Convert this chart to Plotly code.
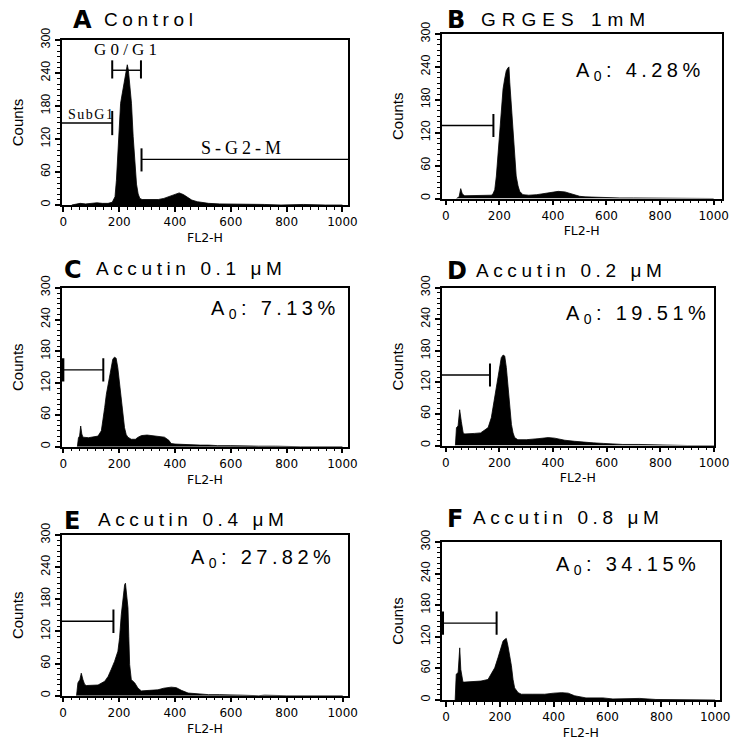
import json
import plotly.graph_objects as go

W, H = 735, 740

# ---------------- data ----------------
panel_letters = ["A", "B", "C", "D", "E", "F"]
panel_titles = ["Control", "GRGES 1mM", "Accutin 0.1 \u03bcM", "Accutin 0.2 \u03bcM",
                "Accutin 0.4 \u03bcM", "Accutin 0.8 \u03bcM"]
apoptosis_pct = [None, "4.28%", "7.13%", "19.51%", "27.82%", "34.15%"]
x_tick_vals = [0, 200, 400, 600, 800, 1000]
y_tick_vals = [0, 60, 120, 180, 240, 300]

fl2_A = [30, 45, 60, 80, 100, 120, 140, 160, 175, 185, 190, 195, 200, 205, 210, 215, 220, 225,
         229, 233, 238, 244, 250, 256, 262, 268, 274, 282, 300, 320, 340, 360, 380, 400, 415,
         430, 445, 460, 480, 500, 520, 560, 600, 640, 680, 720, 780, 860, 940, 1000]
cnt_A = [0, 2, 3, 2, 3, 4, 3, 3, 5, 15, 45, 100, 140, 185, 200, 215, 235, 250,
         255, 245, 215, 185, 125, 70, 38, 20, 12, 10, 10, 11, 10, 12, 16, 20, 22,
         19, 14, 9, 6, 4, 3, 2, 2, 1, 1, 1, 0, 1, 0, 0]

fl2_B = [40, 50, 56, 62, 71, 90, 110, 130, 150, 170, 176, 183, 189, 195, 201, 207, 214, 220,
         226, 232, 236, 239, 245, 251, 257, 263, 270, 276, 288, 310, 340, 370, 395, 420, 445,
         470, 500, 520, 560, 600, 650, 700, 760, 820, 880, 940, 1000]
cnt_B = [0, 3, 18, 8, 5, 5, 6, 5, 6, 6, 8, 16, 41, 78, 126, 163, 200, 218,
         233, 238, 240, 212, 169, 120, 71, 41, 23, 13, 7, 6, 7, 9, 12, 13, 12,
         8, 4, 3, 2, 2, 1, 1, 1, 0, 1, 0, 0]

fl2_C = [50, 54, 58, 62, 66, 70, 90, 110, 124, 136, 142, 148, 154, 160, 166, 172, 177, 183,
         189, 195, 201, 207, 213, 219, 225, 231, 243, 258, 268, 280, 300, 320, 340, 362, 378,
         386, 400, 430, 458, 490, 520, 553, 600, 650, 700, 760, 850, 1000]
cnt_C = [0, 17, 20, 39, 24, 18, 17, 18, 20, 30, 48, 74, 99, 118, 136, 149, 165, 169,
         167, 149, 118, 86, 55, 36, 23, 18, 14, 14, 18, 21, 22, 21, 20, 18, 12,
         6, 5, 4, 4, 3, 3, 2, 2, 1, 1, 1, 0, 0]

fl2_D = [36, 40, 46, 52, 58, 65, 71, 90, 108, 130, 158, 170, 182, 189, 195, 201, 207, 214,
         220, 226, 232, 239, 245, 251, 257, 269, 300, 344, 382, 406, 444, 480, 518, 550, 587,
         620, 660, 720, 800, 900, 1000]
cnt_D = [0, 34, 37, 68, 46, 24, 22, 22, 23, 24, 34, 53, 91, 116, 129, 154, 167, 172,
         170, 148, 116, 72, 40, 24, 15, 11, 11, 13, 15, 14, 10, 8, 6, 5, 4,
         3, 2, 2, 1, 0, 0]

fl2_E = [48, 53, 60, 65, 71, 77, 83, 100, 125, 149, 161, 172, 184, 196, 202, 208, 214, 220,
         223, 226, 232, 235, 238, 244, 256, 268, 280, 310, 339, 360, 387, 405, 423, 447, 483,
         520, 560, 600, 640, 700, 720, 800, 1000]
cnt_E = [0, 24, 30, 42, 30, 21, 19, 19, 20, 27, 36, 49, 64, 83, 108, 151, 182, 207,
         210, 198, 164, 110, 58, 30, 24, 14, 9, 10, 11, 14, 16, 15, 10, 5, 3,
         2, 2, 1, 1, 0, 1, 0, 0]

fl2_F = [34, 38, 45, 51, 55, 63, 70, 100, 130, 156, 168, 181, 193, 206, 212, 218, 224, 230,
         237, 243, 249, 255, 268, 280, 320, 367, 400, 430, 454, 478, 520, 583, 620, 700, 720,
         780, 900, 1000]
cnt_F = [0, 49, 52, 99, 58, 34, 34, 35, 36, 39, 49, 61, 80, 103, 112, 115, 117, 103,
         84, 65, 39, 23, 14, 11, 11, 11, 13, 14, 13, 8, 4, 4, 2, 2, 3,
         1, 0, 0]

panel_fl2 = [fl2_A, fl2_B, fl2_C, fl2_D, fl2_E, fl2_F]
panel_cnt = [cnt_A, cnt_B, cnt_C, cnt_D, cnt_E, cnt_F]

# sub-G1 (apoptotic) gate: right end (FL2-H) and height (counts)
gate_end = [175, 178, 143, 165, 180, 188]
gate_level = [149, 133, 145, 134, 139, 146]
# Control-panel gates
g0g1_gate = (175, 278, 245)
sg2m_gate = (280, 83)

# ---------------- layout geometry (pixels) ----------------
boxes = [(62, 348, 40, 205), (441.7, 721.7, 34, 198.5),
         (62, 348, 287.7, 446.7), (441.7, 714, 287.7, 445.5),
         (61.7, 348.3, 535, 695.7), (441.7, 720, 542, 700)]
xranges = [[-5, 1020], [-15, 1030], [-5, 1020], [-15, 1000], [-5, 1020], [-16, 1018]]
letter_pos = [(71.7, 20), (446, 20.3), (63.3, 270), (446, 270.5), (63.3, 520.5), (446, 519)]
title_pos = [(103.3, 19.7), (480, 20), (95, 269), (475, 270), (96.7, 519.5), (471.7, 517.7)]
ao_pos = [None, (575, 71.5), (210, 310), (565, 314), (190, 558.5), (555, 565)]


def px(x):
    return x / W


def py(y):
    return 1 - y / H


fig = go.Figure()
shapes = []
annotations = []
spacing = []

BLACK = "black"
for i in range(6):
    n = "" if i == 0 else str(i + 1)
    L, R, T, B = boxes[i]
    fig.add_trace(go.Scatter(
        x=panel_fl2[i], y=panel_cnt[i], xaxis="x" + n, yaxis="y" + n,
        mode="lines", line=dict(color=BLACK, width=0.8, shape="linear"),
        fill="tozeroy", fillcolor=BLACK, hoverinfo="skip", showlegend=False))
    fig.layout["xaxis" + n] = dict(
        domain=[px(L), px(R)], range=xranges[i], anchor="y" + n, automargin=False,
        showline=True, linecolor=BLACK, linewidth=1.5, mirror=True,
        showgrid=False, zeroline=False,
        tickmode="array", tickvals=x_tick_vals, ticks="outside", ticklen=5,
        tickwidth=1.5, tickcolor=BLACK,
        minor=dict(dtick=200 / 7, tick0=0, ticks="outside", ticklen=3, tickwidth=1,
                   tickcolor=BLACK),
        tickfont=dict(family="DejaVu Sans", size=12, color=BLACK),
        title=dict(text="FL2-H", standoff=5,
                   font=dict(family="DejaVu Sans", size=12.5, color=BLACK)),
        fixedrange=True)
    fig.layout["yaxis" + n] = dict(
        domain=[py(B), py(T)], range=[0, 300], anchor="x" + n, automargin=False,
        showline=True, linecolor=BLACK, linewidth=1.5, mirror=True,
        showgrid=False, zeroline=False,
        tickmode="array", tickvals=y_tick_vals, tickangle=-90,
        ticks="outside", ticklen=5, tickwidth=1.5, tickcolor=BLACK,
        minor=dict(dtick=10, ticks="outside", ticklen=3, tickwidth=1, tickcolor=BLACK),
        tickfont=dict(family="Liberation Sans Narrow, Liberation Sans", size=12.5, color=BLACK),
        title=dict(text="Counts", standoff=12,
                   font=dict(family="Liberation Sans", size=15, color=BLACK)),
        fixedrange=True)

    xr, yr = "x" + n, "y" + n
    line = dict(color=BLACK, width=1.4)
    tick = dict(color=BLACK, width=2)
    x_left = xranges[i][0]
    e, lv = gate_end[i], gate_level[i]
    hh = 22 if i != 1 else 21
    shapes.append(dict(type="line", xref=xr, yref=yr, x0=x_left, x1=e, y0=lv, y1=lv, line=line))
    shapes.append(dict(type="line", xref=xr, yref=yr, x0=e, x1=e, y0=lv - hh, y1=lv + hh, line=tick))
    if i in (2, 5):
        shapes.append(dict(type="line", xref=xr, yref=yr, x0=x_left + 3, x1=x_left + 3,
                           y0=lv - hh, y1=lv + hh, line=dict(color=BLACK, width=3)))

    # panel letter
    annotations.append(dict(text="<b>%s</b>" % panel_letters[i], xref="paper", yref="paper",
                            x=px(letter_pos[i][0]), y=py(letter_pos[i][1]),
                            xanchor="left", yanchor="middle", showarrow=False, borderpad=0,
                            font=dict(family="DejaVu Sans", size=24, color=BLACK)))
    spacing.append(0)
    annotations.append(dict(text=panel_titles[i], xref="paper", yref="paper",
                            x=px(title_pos[i][0]), y=py(title_pos[i][1]), align="left",
                            xanchor="left", yanchor="middle", showarrow=False, borderpad=0,
                            font=dict(family="Liberation Sans", size=19, color=BLACK)))
    spacing.append(4.6 if i != 1 else 6.0)
    if apoptosis_pct[i]:
        annotations.append(dict(text="A<sub>0</sub>: " + apoptosis_pct[i], xref="paper",
                                yref="paper", x=px(ao_pos[i][0]), y=py(ao_pos[i][1]),
                                align="left", xanchor="left", yanchor="middle",
                                showarrow=False, borderpad=0,
                                font=dict(family="Liberation Sans", size=20, color=BLACK)))
        spacing.append(4.4)

# control-panel gates and labels
l0, l1, lv = g0g1_gate
line = dict(color=BLACK, width=1.4)
tick = dict(color=BLACK, width=2)
shapes.append(dict(type="line", xref="x", yref="y", x0=l0, x1=l1, y0=lv, y1=lv, line=line))
for xx in (l0, l1):
    shapes.append(dict(type="line", xref="x", yref="y", x0=xx, x1=xx, y0=lv - 15, y1=lv + 18, line=tick))
s0, sl = sg2m_gate
shapes.append(dict(type="line", xref="x", yref="y", x0=s0, x1=1020, y0=sl, y1=sl, line=line))
shapes.append(dict(type="line", xref="x", yref="y", x0=s0, x1=s0, y0=sl - 22, y1=sl + 20, line=tick))

serif = "Liberation Serif, Times New Roman, serif"
for txt, x, y, size, sp in [("G0/G1", 93.3, 49.5, 17, 4.2),
                            ("SubG1", 66.5, 114.5, 14, 1.5),
                            ("S-G2-M", 200, 148, 18, 4.0)]:
    annotations.append(dict(text=txt, xref="paper", yref="paper", x=px(x), y=py(y),
                            align="left", xanchor="left", yanchor="middle", showarrow=False,
                            borderpad=0, font=dict(family=serif, size=size, color=BLACK)))
    spacing.append(sp)

fig.update_layout(width=W, height=H, margin=dict(l=0, r=0, t=0, b=0, autoexpand=False),
                  paper_bgcolor="white", plot_bgcolor="white",
                  shapes=shapes, annotations=annotations, showlegend=False)

post = """
document.documentElement.style.margin = '0';
document.documentElement.style.padding = '0';
document.body.style.margin = '0';
document.body.style.padding = '0';
document.body.style.overflow = 'hidden';
var sp = %s;
document.querySelectorAll('g.annotation').forEach(function(g){
  var i = +g.getAttribute('data-index');
  var t = g.querySelector('text.annotation-text') || g.querySelector('text');
  if (t && sp[i]) { t.setAttribute('letter-spacing', sp[i] + 'px'); }
});
""" % json.dumps(spacing)

fig.write_html("out.html", post_script=post, config={"displayModeBar": False})
